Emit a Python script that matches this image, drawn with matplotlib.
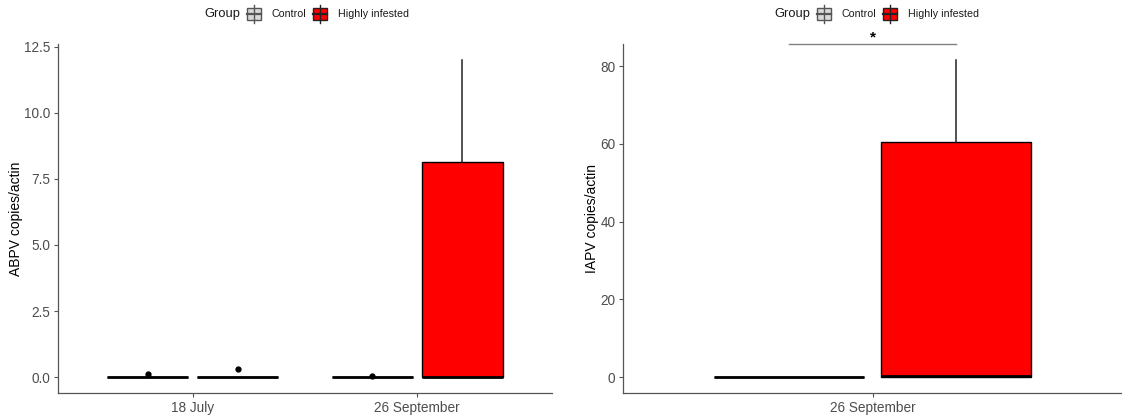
import matplotlib
matplotlib.use("Agg")
import matplotlib.pyplot as plt
from matplotlib.patches import Rectangle
from matplotlib.lines import Line2D

plt.rcParams['font.family'] = ['Liberation Sans', 'DejaVu Sans']

W, H = 1122, 419

# values
groups = ["Control", "Highly infested"]
group_colors = ["white", "#FF0000"]

abpv_dates = ["18 July", "26 September"]
# one entry per date, then per group: (q1, median, q3, whisker low, whisker high, outliers)
abpv_q1 = [[0.0, 0.0], [0.0, 0.0]]
abpv_med = [[0.0, 0.0], [0.0, 0.0]]
abpv_q3 = [[0.0, 0.0], [0.0, 8.15]]
abpv_lo = [[0.0, 0.0], [0.0, 0.0]]
abpv_hi = [[0.0, 0.0], [0.0, 12.0]]
abpv_out = [[[0.11], [0.3]], [[0.04], []]]

iapv_dates = ["26 September"]
iapv_q1 = [[0.0, 0.1]]
iapv_med = [[0.0, 0.3]]
iapv_q3 = [[0.0, 60.4]]
iapv_lo = [[0.0, 0.0]]
iapv_hi = [[0.0, 81.6]]
iapv_out = [[[], []]]
iapv_sig = "*"


def draw_panel(ax, dates, q1, med, q3, lo, hi, out, ylabel, yticks, yfmt, ylim):
    for i, d in enumerate(dates):
        for g in range(2):
            pos = i + 1 + (g - 0.5) * 0.4
            st = [dict(q1=q1[i][g], med=med[i][g], q3=q3[i][g],
                       whislo=lo[i][g], whishi=hi[i][g], fliers=out[i][g])]
            ax.bxp(st, positions=[pos], widths=0.36, patch_artist=True,
                   showcaps=False,
                   boxprops=dict(facecolor=group_colors[g], edgecolor="black", linewidth=1.0),
                   medianprops=dict(color="black", linewidth=2.0),
                   whiskerprops=dict(color="#222222", linewidth=1.1),
                   flierprops=dict(marker="o", markerfacecolor="black",
                                   markeredgecolor="black", markersize=3.5))
    ax.set_xlim(0.4, len(dates) + 0.6)
    ax.set_ylim(*ylim)
    ax.set_xticks(range(1, len(dates) + 1))
    ax.set_xticklabels(dates)
    ax.set_yticks(yticks)
    ax.set_yticklabels([yfmt.format(v) for v in yticks])
    ax.set_ylabel(ylabel, fontsize=10, color="black", labelpad=1)
    for s in ["top", "right"]:
        ax.spines[s].set_visible(False)
    for s in ["left", "bottom"]:
        ax.spines[s].set_color("#555555")
        ax.spines[s].set_linewidth(0.9)
    ax.tick_params(colors="#555555", labelcolor="#4D4D4D", labelsize=9.8,
                   length=3, width=0.8, pad=2.5)


def fx(x):
    return x / W


def fy(y):
    return 1 - y / H


def legend(fig, x0, y0):
    fig.text(fx(x0), fy(y0), "Group", fontsize=9.3, va="center", ha="left", color="#1a1a1a")
    spots = [(x0 + 43, x0 + 68), (x0 + 109, x0 + 134)]
    edges = ["#555555", "#222222"]
    fills = ["#D9D9D9", "#FF0000"]
    for g, (kx, tx) in enumerate(spots):
        fig.add_artist(Line2D([fx(kx + 7)] * 2, [fy(y0 - 9), fy(y0 + 9)],
                              color=edges[g], lw=1.0, transform=fig.transFigure))
        fig.add_artist(Rectangle((fx(kx), fy(y0 + 6)), 14 / W, 12 / H,
                                 facecolor=fills[g], edgecolor=edges[g], lw=1.0,
                                 transform=fig.transFigure))
        fig.add_artist(Line2D([fx(kx), fx(kx + 14)], [fy(y0)] * 2,
                              color=edges[g], lw=1.6, transform=fig.transFigure))
        fig.text(fx(tx), fy(y0), groups[g], fontsize=7.7, va="center", ha="left",
                 color="#1a1a1a")


fig = plt.figure(figsize=(W / 100, H / 100), dpi=100)
ax1 = fig.add_axes([fx(58), fy(393), 494 / W, 349 / H])
ax2 = fig.add_axes([fx(623), fy(393), 499 / W, 349 / H])

draw_panel(ax1, abpv_dates, abpv_q1, abpv_med, abpv_q3, abpv_lo, abpv_hi, abpv_out,
           "ABPV copies/actin", [0, 2.5, 5, 7.5, 10, 12.5], "{:.1f}", (-0.6, 12.6))
draw_panel(ax2, iapv_dates, iapv_q1, iapv_med, iapv_q3, iapv_lo, iapv_hi, iapv_out,
           "IAPV copies/actin", [0, 20, 40, 60, 80], "{:.0f}", (-4.08, 85.7))

# significance bracket between the two groups
ytop = 85.7
ax2.plot([0.8, 1.2], [ytop, ytop], color="#808080", lw=1.0, clip_on=False)
ax2.text(1.0, ytop + 1.6, iapv_sig, ha="center", va="center", fontsize=11,
         fontweight="bold", color="black")

legend(fig, 204, 14)
legend(fig, 774, 14)

fig.savefig("out.png", dpi=100)
